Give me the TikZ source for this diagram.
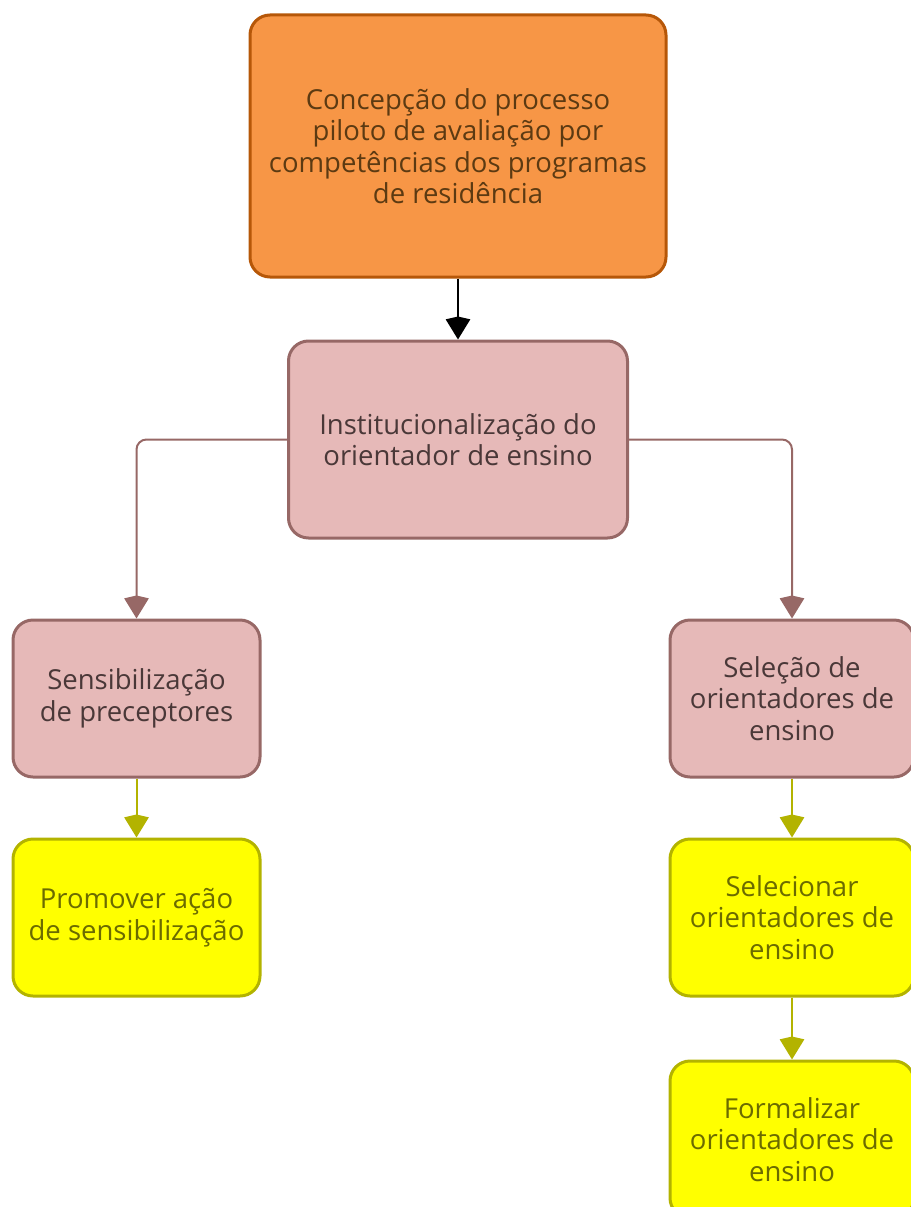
\documentclass[tikz,border=0pt]{standalone}
\usepackage{fontspec}
\setmainfont{Open Sans}
\usepackage{tikz}
\usetikzlibrary{
	arrows.meta,
	positioning,
	}
\definecolor{orangefill}{HTML}{F79646}
\definecolor{orangeline}{HTML}{B65708}
\definecolor{orangetext}{HTML}{5C3A12}
\definecolor{rosefill}{HTML}{E6B9B8}
\definecolor{roseline}{HTML}{976866}
\definecolor{rosetext}{HTML}{4A3838}
\definecolor{yellowfill}{HTML}{FFFF00}
\definecolor{yellowline}{HTML}{B3B300}
\definecolor{yellowtext}{HTML}{6B6B00}
\tikzset{
	box/.style={draw, rounded corners=20pt, line width=3pt, align=center, inner sep=0pt,
		font=\fontsize{27.5}{31.5}\selectfont},
	topbox/.style={box, fill=orangefill, draw=orangeline, text=orangetext},
	rosebox/.style={box, fill=rosefill, draw=roseline, text=rosetext},
	yellowbox/.style={box, fill=yellowfill, draw=yellowline, text=yellowtext},
	link/.style={line width=2pt, -{Stealth[width=24pt,length=20pt,inset=-3pt]}},
}

\begin{document}
\begin{tikzpicture}[x=1pt, y=-1pt]
		\useasboundingbox (0,0) rectangle (910,1207);
		\node[topbox, minimum width=416pt, minimum height=262pt] (concep) at (458,146)
			{Concepção do processo\\piloto de avaliação por\\competências dos programas\\de residência};
		\node[rosebox, minimum width=339pt, minimum height=197pt, below = 61pt of concep] (inst)
			{Institucionalização do\\orientador de ensino};
		\node[rosebox, minimum width=247pt, minimum height=157pt] (sens) at (136.5,698.5)
			{Sensibilização\\de preceptores};
		\node[yellowbox, minimum width=247pt, minimum height=157pt, below = 59pt of sens] (promo)
			{Promover ação\\de sensibilização};
		\node[rosebox, minimum width=244pt, minimum height=157pt] (sele) at (792,698.5)
			{Seleção de\\orientadores de\\ensino};
		\node[yellowbox, minimum width=244pt, minimum height=157pt, below = 59pt of sele] (selec)
			{Selecionar\\orientadores de\\ensino};
		\node[yellowbox, minimum width=244pt, minimum height=157pt, below = 62pt of selec] (formal)
			{Formalizar\\orientadores de\\ensino};
		\draw[link, black] (concep) -- (inst);
		\draw[link, roseline, rounded corners=10pt] (inst.west) -| (sens.north);
		\draw[link, roseline, rounded corners=10pt] (inst.east) -| (sele.north);
		\draw[link, yellowline] (sens) -- (promo);
		\draw[link, yellowline] (sele) -- (selec);
		\draw[link, yellowline] (selec) -- (formal);
	\end{tikzpicture}
\end{document}
